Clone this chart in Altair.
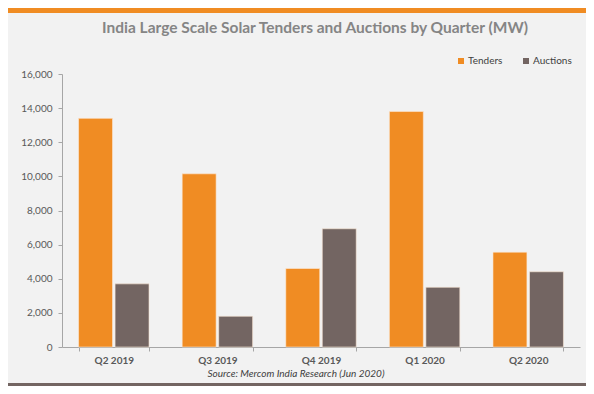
import altair as alt
import pandas as pd

quarters = ["Q2 2019", "Q3 2019", "Q4 2019", "Q1 2020", "Q2 2020"]
tenders = [13400, 10150, 4600, 13800, 5560]
auctions = [3700, 1800, 6930, 3500, 4410]
series = ["Tenders", "Auctions"]
colors = ["#F08C23", "#736562"]
title_text = "India Large Scale Solar Tenders and Auctions by Quarter (MW)"
source_text = "Source: Mercom India Research (Jun 2020)"

rows = []
for q, t, a in zip(quarters, tenders, auctions):
    rows.append({"Quarter": q, "Series": "Tenders", "MW": t})
    rows.append({"Quarter": q, "Series": "Auctions", "MW": a})
df = pd.DataFrame(rows)

W, H = 518, 273
PL, PT = 54, 66
TW, TH = 578, 378

bars = alt.Chart(df).mark_bar(stroke="#fbe9d8", strokeWidth=0.6).encode(
    x=alt.X("Quarter:N", sort=quarters,
            scale=alt.Scale(paddingInner=0.32, paddingOuter=0.16),
            axis=alt.Axis(title=None,
                          labelAngle=0, labelFontWeight="bold", labelFontSize=10,
                          labelColor="#595959", labelFont="Lato", labelPadding=4,
                          domainColor="#a6a6a6", tickColor="#a6a6a6", tickSize=4,
                          tickBand="extent")),
    xOffset=alt.XOffset("Series:N", sort=series,
                        scale=alt.Scale(paddingInner=0.07, paddingOuter=0)),
    y=alt.Y("MW:Q", scale=alt.Scale(domain=[0, 16000], nice=False),
            axis=alt.Axis(title=None, values=list(range(0, 16001, 2000)),
                          format=",.0f", grid=False, labelFontSize=10,
                          labelColor="#595959", labelFont="Lato",
                          domainColor="#a6a6a6", tickColor="#a6a6a6",
                          tickSize=4, labelPadding=6)),
    color=alt.Color("Series:N", sort=series,
                    scale=alt.Scale(domain=series, range=colors),
                    legend=alt.Legend(title=None, orient="none",
                                      direction="horizontal",
                                      legendX=394, legendY=-18,
                                      symbolType="square", symbolSize=36,
                                      symbolStrokeWidth=0,
                                      labelFont="Lato", labelFontSize=10,
                                      labelColor="#404040",
                                      columnPadding=18, labelOffset=2)),
)

one = pd.DataFrame({"v": [0]})

top_band = alt.Chart(one).mark_rect(color="#F08C23", clip=False).encode(
    x=alt.value(-PL), x2=alt.value(TW - PL),
    y=alt.value(-PT), y2=alt.value(-PT + 5))

bottom_band = alt.Chart(one).mark_rect(color="#736562", clip=False).encode(
    x=alt.value(-PL), x2=alt.value(TW - PL),
    y=alt.value(TH - PT - 3), y2=alt.value(TH - PT))

title = alt.Chart(pd.DataFrame({"t": [title_text]})).mark_text(
    font="Lato", fontSize=15.5, fontWeight="bold", color="#858585",
    align="center", baseline="middle", clip=False).encode(
    text="t:N", x=alt.value(253), y=alt.value(-46))

source = alt.Chart(pd.DataFrame({"t": [source_text]})).mark_text(
    font="Lato", fontSize=10, fontStyle="italic", color="#404040",
    align="center", baseline="middle", clip=False).encode(
    text="t:N", x=alt.value(234), y=alt.value(300))

chart = alt.layer(top_band, bottom_band, bars, title, source).properties(
    width=W, height=H,
    autosize=alt.AutoSizeParams(type="none"),
    padding={"left": PL, "top": PT, "right": TW - PL - W, "bottom": TH - PT - H},
    background="#f2f2f2",
).configure_view(stroke=None)

chart.save("out.html", embed_options={"renderer": "svg", "actions": False})
